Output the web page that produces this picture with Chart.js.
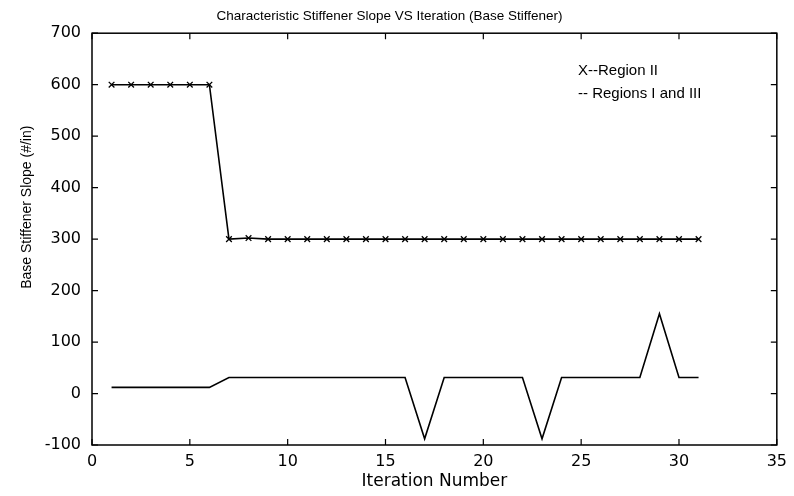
<!DOCTYPE html>
<html>
<head>
<meta charset="utf-8">
<script src="https://cdn.jsdelivr.net/npm/chart.js@4.4.0/dist/chart.umd.min.js"></script>
<style>
  html, body { margin: 0; padding: 0; background: #fff; }
  #wrap { width: 794px; height: 496px; }
</style>
</head>
<body>
<div id="wrap"><canvas id="chart" width="794" height="496"></canvas></div>
<script>
// Datos
const iterations = [1, 2, 3, 4, 5, 6, 7, 8, 9, 10, 11, 12, 13, 14, 15, 16,
    17, 18, 19, 20, 21, 22, 23, 24, 25, 26, 27, 28, 29, 30, 31];
const region2 = [600, 600, 600, 600, 600, 600, 300, 302, 300, 300, 300, 300, 300, 300, 300, 300,
    300, 300, 300, 300, 300, 300, 300, 300, 300, 300, 300, 300, 300, 300, 300];
const regions13 = [12, 12, 12, 12, 12, 12, 31, 31, 31, 31, 31, 31, 31, 31, 31, 31,
    -88, 31, 31, 31, 31, 31, -88, 31, 31, 31, 31, 31, 155, 31, 31];
const legendLines = ['X--Region II', '-- Regions I and III'];
const yTitle = 'Base Stiffener Slope (#/in)';

const font = "'Liberation Sans', Arial, sans-serif";
const wide = "'DejaVu Sans', sans-serif";

// Marcas hacia adentro en los cuatro lados (estilo MATLAB), leyenda y titulo del eje y
const boxTicks = {
    id: 'boxTicks',
    afterDraw(chart) {
        const ctx = chart.ctx;
        const a = chart.chartArea;
        const xs = chart.scales.x;
        const ys = chart.scales.y;
        const len = 6;
        ctx.save();
        ctx.strokeStyle = '#000';
        ctx.lineWidth = 1.5;
        ctx.strokeRect(a.left, a.top, a.right - a.left, a.bottom - a.top);
        ctx.lineWidth = 1.2;
        ctx.beginPath();
        xs.ticks.forEach(t => {
            const px = xs.getPixelForValue(t.value);
            ctx.moveTo(px, a.bottom); ctx.lineTo(px, a.bottom - len);
            ctx.moveTo(px, a.top); ctx.lineTo(px, a.top + len);
        });
        ys.ticks.forEach(t => {
            const py = ys.getPixelForValue(t.value);
            ctx.moveTo(a.left, py); ctx.lineTo(a.left + len, py);
            ctx.moveTo(a.right, py); ctx.lineTo(a.right - len, py);
        });
        ctx.stroke();

        // leyenda
        ctx.fillStyle = '#000';
        ctx.font = '15px ' + font;
        ctx.textBaseline = 'middle';
        ctx.fillText(legendLines[0], a.left + 486, a.top + 38);
        ctx.fillText(legendLines[1], a.left + 486, a.top + 61);

        // titulo eje y (algo por encima del centro, como en la figura)
        ctx.translate(27, a.top + 174);
        ctx.rotate(-Math.PI / 2);
        ctx.font = '14px ' + font;
        ctx.textAlign = 'center';
        ctx.fillText(yTitle, 0, 0);
        ctx.restore();
    }
};

const config = {
    type: 'line',
    data: {
        datasets: [
            {
                label: 'Region II',
                data: iterations.map((x, i) => ({ x, y: region2[i] })),
                borderColor: '#000',
                backgroundColor: '#000',
                borderWidth: 1.6,
                pointStyle: 'crossRot',
                pointRadius: 4,
                pointBorderWidth: 1.3,
                tension: 0
            },
            {
                label: 'Regions I and III',
                data: iterations.map((x, i) => ({ x, y: regions13[i] })),
                borderColor: '#000',
                borderWidth: 1.6,
                pointRadius: 0,
                tension: 0
            }
        ]
    },
    options: {
        responsive: false,
        animation: false,
        layout: { padding: { right: 15, top: 0 } },
        plugins: {
            legend: { display: false },
            tooltip: { enabled: false },
            title: {
                display: true,
                text: 'Characteristic Stiffener Slope VS Iteration (Base Stiffener)',
                color: '#000',
                font: { family: font, size: 13.5, weight: 'normal' },
                padding: { top: 8, bottom: 9 }
            }
        },
        scales: {
            x: {
                type: 'linear',
                min: 0,
                max: 35,
                ticks: { stepSize: 5, color: '#000', font: { family: wide, size: 16 }, padding: 7 },
                grid: { display: false, drawTicks: false },
                border: { display: false },
                title: {
                    display: true,
                    text: 'Iteration Number',
                    color: '#000',
                    font: { family: wide, size: 17 },
                    padding: { top: 1, bottom: 4 }
                },
                afterFit: s => { s.height = 51; }
            },
            y: {
                min: -100,
                max: 700,
                ticks: { stepSize: 100, color: '#000', font: { family: wide, size: 16 }, padding: 11 },
                grid: { display: false, drawTicks: false },
                border: { display: false },
                afterFit: s => { s.width = 92; }
            }
        }
    },
    plugins: [boxTicks]
};

new Chart(document.getElementById('chart'), config);
</script>
</body>
</html>
